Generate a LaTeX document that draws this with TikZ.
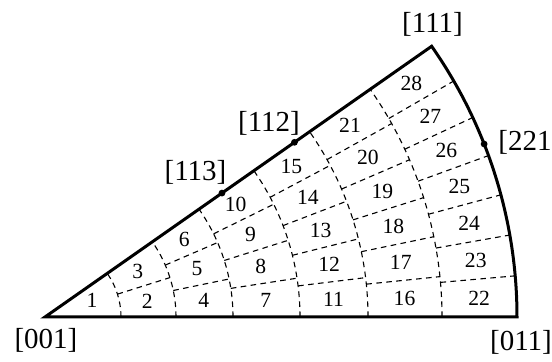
\documentclass[tikz,border=0pt]{standalone}
\usepackage{fontspec}
\setmainfont{Liberation Serif}
\usetikzlibrary{calc}

\tikzset{
  rim/.style={line width=1.5pt},
  cellline/.style={line width=0.55pt, dash pattern=on 2.8pt off 2.2pt},
  num/.style={font=\fontsize{10.8}{12}\selectfont, inner sep=0pt},
  pole/.style={font=\fontsize{14.5}{16}\selectfont, inner sep=0pt},
  polept/.style={circle, fill, inner sep=0pt, minimum size=3.4pt}
}

\begin{document}
\begin{tikzpicture}[x=0.5pt,y=0.5pt]
  \useasboundingbox (-45,-45) rectangle (507,317);
  \def\topang{35}

  % corners of the triangle
  \coordinate (c001) at (0,0);
  \coordinate (c011) at (472,0);
  \coordinate (c111) at (\topang:472);

  % dashed cells, column by column
  \foreach \i/\rin/\rout in {1/0/76,2/76/131,3/131/188,4/188/255,5/255/323,6/323/397,7/397/472}{
    \ifnum\i<7
      \draw[cellline] (0:\rout) arc[start angle=0,end angle=\topang,radius=\rout];
    \fi
    \ifnum\i>1
      \pgfmathtruncatemacro\last{\i-1}
      \foreach \k in {1,...,\last}
        \draw[cellline] ({\k*\topang/\i}:\rin) -- ({\k*\topang/\i}:\rout);
    \fi
    \foreach \k in {1,...,\i}{
      \pgfmathtruncatemacro\n{\i*(\i-1)/2+\k}
      \ifnum\i=1
        \node[num] (n\n) at (20:50) {\n};
      \else
        \node[num] (n\n) at ({(\k-0.5)*\topang/\i}:{(\rin+\rout)/2}) {\n};
      \fi
    }
  }

  % outline
  \draw[rim] (c001) -- (c011) arc[start angle=0,end angle=\topang,radius=472] -- cycle;

  % marked poles
  \node[polept] (p113) at (\topang:216) {};
  \node[polept] (p112) at (\topang:304.5) {};
  \node[polept] (p221) at (21.5:472) {};

  % labels
  \node[pole] (l001) at (1,-23) {[001]};
  \node[pole] (l011) at (476,-25) {[011]};
  \node[pole] (l111) at (387.5,293) {[111]};
  \node[pole] (l113) at (150.5,145) {[113]};
  \node[pole] (l112) at (224,194) {[112]};
  \node[pole,anchor=west] (l221) at (453,175) {[221};
\end{tikzpicture}
\end{document}
